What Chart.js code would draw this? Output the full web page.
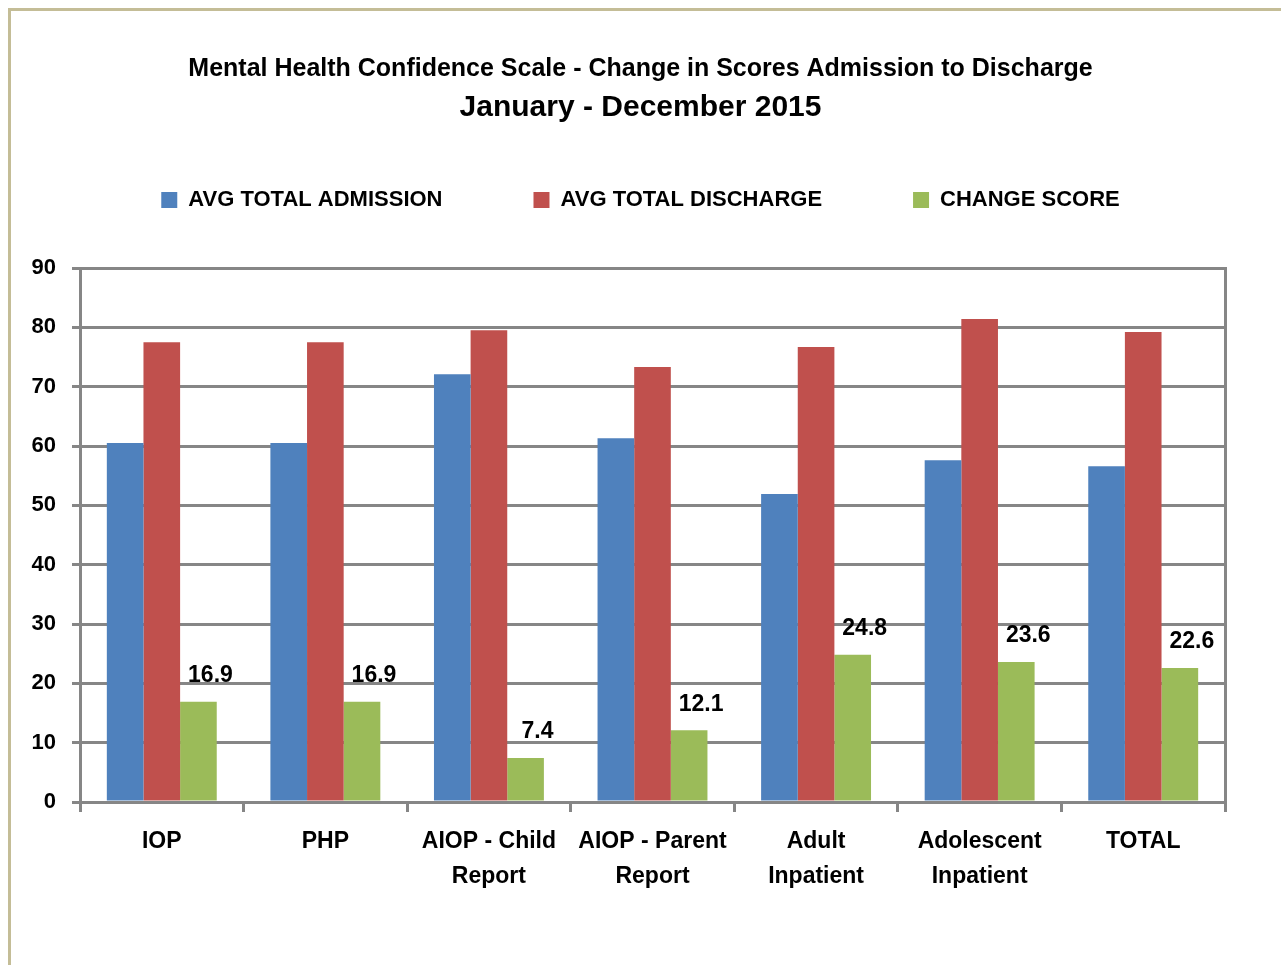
<!DOCTYPE html>
<html>
<head>
<meta charset="utf-8">
<script src="https://cdn.jsdelivr.net/npm/chart.js@4.4.1/dist/chart.umd.min.js"></script>
<style>
  html, body { margin: 0; padding: 0; background: #fff; overflow: hidden; }
  #frame { position: absolute; left: 8px; top: 8px; width: 1300px; height: 1000px;
           border-left: 3px solid #c4bd97; border-top: 3px solid #c4bd97; }
  #wrap { position: absolute; left: 0; top: 0; width: 1281px; height: 965px; }
</style>
</head>
<body>
<div id="frame"></div>
<div id="wrap"><canvas id="medalChart"></canvas></div>
<script>
// values
var categories = ['IOP', 'PHP', ['AIOP - Child', 'Report'], ['AIOP - Parent', 'Report'],
                  ['Adult', 'Inpatient'], ['Adolescent', 'Inpatient'], 'TOTAL'];
var avgAdmission = [60.5, 60.5, 72.1, 61.3, 51.9, 57.6, 56.6];
var avgDischarge = [77.5, 77.5, 79.5, 73.3, 76.7, 81.4, 79.2];
var changeScore = [16.9, 16.9, 7.4, 12.1, 24.8, 23.6, 22.6];
var yTicks = [0, 10, 20, 30, 40, 50, 60, 70, 80, 90];

var FONT = "'Liberation Sans', Arial, sans-serif";
var GRID = '#868686';

// labels above the green bars
var valueLabels = {
    id: 'valueLabels',
    afterDatasetsDraw: function (chart) {
        var ctx = chart.ctx;
        var meta = chart.getDatasetMeta(2);
        ctx.save();
        ctx.font = 'bold 23px ' + FONT;
        ctx.fillStyle = '#000';
        ctx.textAlign = 'center';
        ctx.textBaseline = 'middle';
        meta.data.forEach(function (bar, i) {
            ctx.fillText(changeScore[i].toFixed(1), bar.x + 12, bar.y - 26);
        });
        ctx.restore();
    }
};

function createChart() {
    var ctx = document.getElementById('medalChart').getContext('2d');
    new Chart(ctx, {
        type: 'bar',
        data: {
            labels: categories,
            datasets: [
                { label: 'AVG TOTAL ADMISSION', data: avgAdmission, backgroundColor: '#4f81bd' },
                { label: 'AVG TOTAL DISCHARGE', data: avgDischarge, backgroundColor: '#c0504d' },
                { label: 'CHANGE SCORE', data: changeScore, backgroundColor: '#9bbb59' }
            ]
        },
        options: {
            responsive: true,
            maintainAspectRatio: false,
            animation: false,
            categoryPercentage: 0.672,
            barPercentage: 1,
            layout: { padding: 0 },
            plugins: {
                tooltip: { enabled: false },
                title: {
                    display: true,
                    text: 'Mental Health Confidence Scale - Change in Scores Admission to Discharge',
                    color: '#000',
                    font: { family: FONT, size: 25, weight: 'bold', lineHeight: 1.2 },
                    padding: { top: 54, bottom: 0 }
                },
                subtitle: {
                    display: true,
                    text: 'January - December 2015',
                    color: '#000',
                    font: { family: FONT, size: 30, weight: 'bold', lineHeight: 1.2 },
                    padding: { top: 6, bottom: -28 }
                },
                legend: {
                    position: 'top',
                    labels: {
                        color: '#000',
                        font: { family: FONT, size: 22, weight: 'bold' },
                        boxWidth: 16,
                        boxHeight: 16,
                        padding: 91
                    }
                }
            },
            scales: {
                x: {
                    grid: { offset: true, drawOnChartArea: false, color: GRID, lineWidth: 3, tickLength: 10 },
                    border: { color: GRID, width: 3 },
                    ticks: {
                        color: '#000',
                        padding: 12,
                        font: { family: FONT, size: 23, weight: 'bold', lineHeight: 1.52 }
                    },
                    afterFit: function (scale) { scale.height = 163; }
                },
                spacer: {
                    type: 'category',
                    position: 'top',
                    grid: { display: false, drawTicks: false },
                    border: { display: false },
                    ticks: { display: false },
                    afterFit: function (scale) { scale.height = 47; }
                },
                y: {
                    min: 0,
                    max: 90,
                    afterBuildTicks: function (scale) {
                        scale.ticks = yTicks.map(function (v) { return { value: v }; });
                    },
                    grid: { color: GRID, lineWidth: 3, tickLength: 8 },
                    border: { color: GRID, width: 3 },
                    ticks: {
                        color: '#000',
                        padding: 16,
                        font: { family: FONT, size: 22, weight: 'bold' }
                    },
                    afterFit: function (scale) { scale.width = 80; }
                },
                yRight: {
                    position: 'right',
                    min: 0,
                    max: 90,
                    grid: { display: false },
                    border: { color: GRID, width: 3 },
                    ticks: { display: false },
                    afterFit: function (scale) { scale.width = 56; }
                }
            }
        },
        plugins: [valueLabels]
    });
}

createChart();
</script>
</body>
</html>
